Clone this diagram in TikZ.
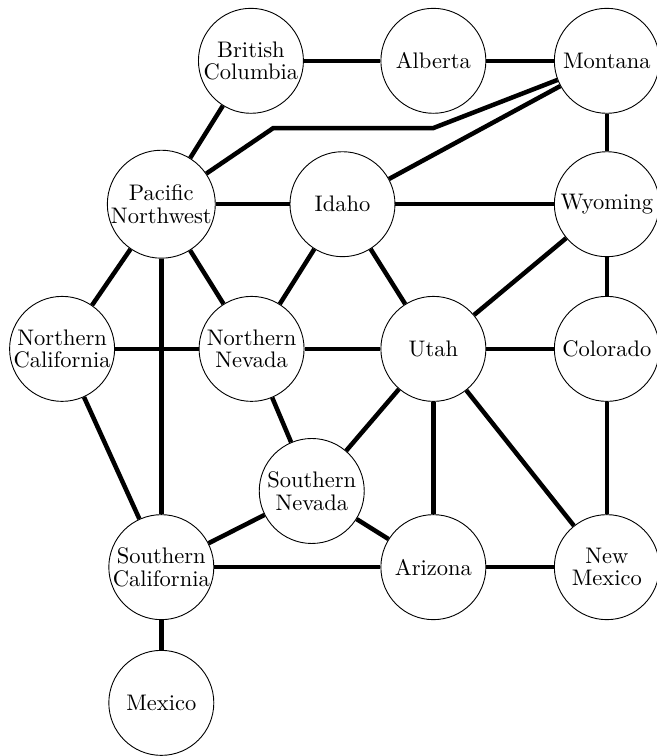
\documentclass[tikz,border=0pt]{standalone}
\tikzset{
    region/.style={circle, draw, fill=white, inner sep=0pt, minimum size=1.64cm, align=center, font=\fontsize{10}{10}\selectfont},
    border/.style={line width=2pt}
}
\begin{document}
\begin{tikzpicture}
        \useasboundingbox (0,0) rectangle (10.25,-11.81);
        \node[region] at (3.92,-0.95) (bc) {British\\Columbia};
        \node[region] at (6.77,-0.95) (alberta) {Alberta};
        \node[region] at (9.48,-0.95) (montana) {Montana};
        \node[region] at (2.52,-3.19) (pnw) {Pacific\\Northwest};
        \node[region] at (5.35,-3.19) (idaho) {Idaho};
        \node[region] at (9.48,-3.19) (wyoming) {Wyoming};
        \node[region] at (0.97,-5.45) (ncal) {Northern\\California};
        \node[region] at (3.93,-5.45) (nnev) {Northern\\Nevada};
        \node[region] at (6.77,-5.45) (utah) {Utah};
        \node[region] at (9.48,-5.45) (colorado) {Colorado};
        \node[region] at (4.87,-7.67) (snev) {Southern\\Nevada};
        \node[region] at (2.52,-8.86) (scal) {Southern\\California};
        \node[region] at (6.77,-8.86) (arizona) {Arizona};
        \node[region] at (9.48,-8.86) (newmexico) {New\\Mexico};
        \node[region] at (2.52,-10.98) (mexico) {Mexico};
        \coordinate (bend1) at (4.27,-2.0);
        \coordinate (bend2) at (6.77,-2.0);

        \draw[border] (bc) -- (alberta);
        \draw[border] (alberta) -- (montana);
        \draw[border] (bc) -- (pnw);
        \draw[border] (pnw) -- (bend1) -- (bend2) -- (montana);
        \draw[border] (idaho) -- (montana);
        \draw[border] (montana) -- (wyoming);
        \draw[border] (pnw) -- (idaho);
        \draw[border] (idaho) -- (wyoming);
        \draw[border] (pnw) -- (ncal);
        \draw[border] (pnw) -- (nnev);
        \draw[border] (pnw) -- (scal);
        \draw[border] (idaho) -- (nnev);
        \draw[border] (idaho) -- (utah);
        \draw[border] (wyoming) -- (utah);
        \draw[border] (wyoming) -- (colorado);
        \draw[border] (ncal) -- (nnev);
        \draw[border] (nnev) -- (utah);
        \draw[border] (utah) -- (colorado);
        \draw[border] (ncal) -- (scal);
        \draw[border] (nnev) -- (snev);
        \draw[border] (utah) -- (snev);
        \draw[border] (utah) -- (arizona);
        \draw[border] (utah) -- (newmexico);
        \draw[border] (colorado) -- (newmexico);
        \draw[border] (snev) -- (scal);
        \draw[border] (snev) -- (arizona);
        \draw[border] (scal) -- (arizona);
        \draw[border] (arizona) -- (newmexico);
        \draw[border] (scal) -- (mexico);
\end{tikzpicture}
\end{document}
